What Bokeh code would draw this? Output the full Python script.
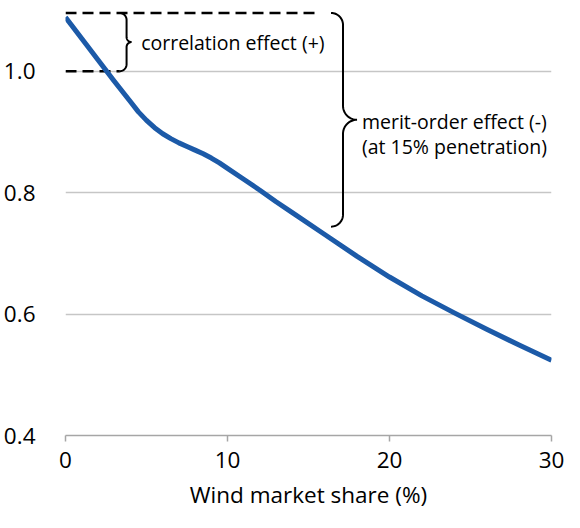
import numpy as np
from bokeh.plotting import figure
from bokeh.models import FixedTicker, PrintfTickFormatter, Range1d
from bokeh.core.properties import value
from bokeh.embed import file_html
from bokeh.resources import INLINE

# ---- data ----
wind_share = [0, 1, 2, 3, 4, 4.5, 5, 5.5, 6, 6.5, 7, 7.5, 8, 8.5, 9, 9.5, 10,
              11, 12, 13, 14, 16, 18, 20, 22, 24, 26, 28, 30]
price_ratio = [1.089, 1.054, 1.019, 0.984, 0.950, 0.933, 0.919, 0.907, 0.897, 0.889, 0.882,
               0.876, 0.870, 0.864, 0.857, 0.849, 0.840, 0.822, 0.804, 0.785, 0.767,
               0.731, 0.695, 0.661, 0.630, 0.602, 0.575, 0.549, 0.524]
y_ticks = [0.4, 0.6, 0.8, 1.0]
x_ticks = [0, 10, 20, 30]

# annotation levels (data units)
level_top = 1.096
level_ref = 1.0
level_merit_bottom = 0.744
label_corr = "correlation effect (+)"
label_merit = ["merit-order effect (-)", "(at 15% penetration)"]

FONT = "Open Sans"
BLUE = "#1c5aa8"

p = figure(width=564, height=512, output_backend="svg", toolbar_location=None,
           x_range=Range1d(0, 30), y_range=Range1d(0.4, 1.1),
           min_border_left=65, min_border_right=13, min_border_top=10, min_border_bottom=77)
p.outline_line_color = None
p.background_fill_color = "white"
p.border_fill_color = "white"

# axes
p.xaxis.ticker = FixedTicker(ticks=x_ticks)
p.xaxis.axis_line_color = "#a6a6a6"
p.xaxis.axis_line_width = 1.5
p.xaxis.major_tick_line_color = "#a6a6a6"
p.xaxis.major_tick_line_width = 1.5
p.xaxis.major_tick_in = 0
p.xaxis.major_tick_out = 6
p.xaxis.minor_tick_line_color = None
p.xaxis.major_label_text_font = FONT
p.xaxis.major_label_text_font_size = "22.5px"
p.xaxis.major_label_text_color = "black"
p.xaxis.major_label_standoff = 10
p.xaxis.axis_label = "Wind market share (%)"
p.xaxis.axis_label_text_font = FONT
p.xaxis.axis_label_text_font_size = "22.5px"
p.xaxis.axis_label_text_font_style = "normal"
p.xaxis.axis_label_text_color = "black"
p.xaxis.axis_label_standoff = 8

p.yaxis.ticker = FixedTicker(ticks=y_ticks)
p.yaxis.formatter = PrintfTickFormatter(format="%.1f")
p.yaxis.axis_line_color = None
p.yaxis.major_tick_line_color = None
p.yaxis.minor_tick_line_color = None
p.yaxis.major_label_text_font = FONT
p.yaxis.major_label_text_font_size = "22.5px"
p.yaxis.major_label_text_color = "black"
p.yaxis.major_label_standoff = 24

p.xgrid.grid_line_color = None
p.ygrid.ticker = FixedTicker(ticks=y_ticks[1:])
p.ygrid.grid_line_color = "#c6c6c6"
p.ygrid.grid_line_width = 1.5

# pixel scale of the frame (approx) for circular brace curls
PX_X = 486.0 / 30.0
PX_Y = 425.0 / 0.7


def brace(x_line, r_curl_px, r_tip_px, y_top, y_bot):
    rx = r_curl_px / PX_X
    ry = r_curl_px / PX_Y
    rx2 = r_tip_px / PX_X
    ry2 = r_tip_px / PX_Y
    x_left = x_line - rx
    x_tip = x_line + rx2
    y_mid = 0.5 * (y_top + y_bot)
    t = np.linspace(0, np.pi / 2, 16)
    up_x = list(x_left + rx * np.sin(t)) + list(x_tip - rx2 * np.cos(t))
    up_y = list(y_top - ry + ry * np.cos(t)) + list(y_mid + ry2 - ry2 * np.sin(t))
    low_x = up_x[::-1]
    low_y = [2 * y_mid - v for v in up_y[::-1]]
    return up_x + low_x, up_y + low_y


# dashed reference lines
p.line([0, 15.5], [level_top, level_top], line_color="black", line_width=2.5, line_dash="11 6")
p.line([0, 3.35], [level_ref, level_ref], line_color="black", line_width=2.5, line_dash="11 6")

# braces
bx, by = brace(3.77, 7, 5, level_top, level_ref)
p.line(bx, by, line_color="black", line_width=2)
bx, by = brace(17.13, 12, 14, level_top, level_merit_bottom)
p.line(bx, by, line_color="black", line_width=2)

# main curve
p.line(wind_share, price_ratio, line_color=BLUE, line_width=5, line_join="round")

# labels
p.text(x=[4.67], y=[1.047], text=[label_corr], text_font=value(FONT), text_font_size="19.5px",
       text_baseline="middle", text_align="left", text_color="black")
p.text(x=[18.3, 18.3], y=[0.917, 0.876], text=label_merit, text_font=value(FONT),
       text_font_size="19.5px", text_baseline="middle", text_align="left", text_color="black")

open("out.html", "w").write(file_html(p, INLINE))
